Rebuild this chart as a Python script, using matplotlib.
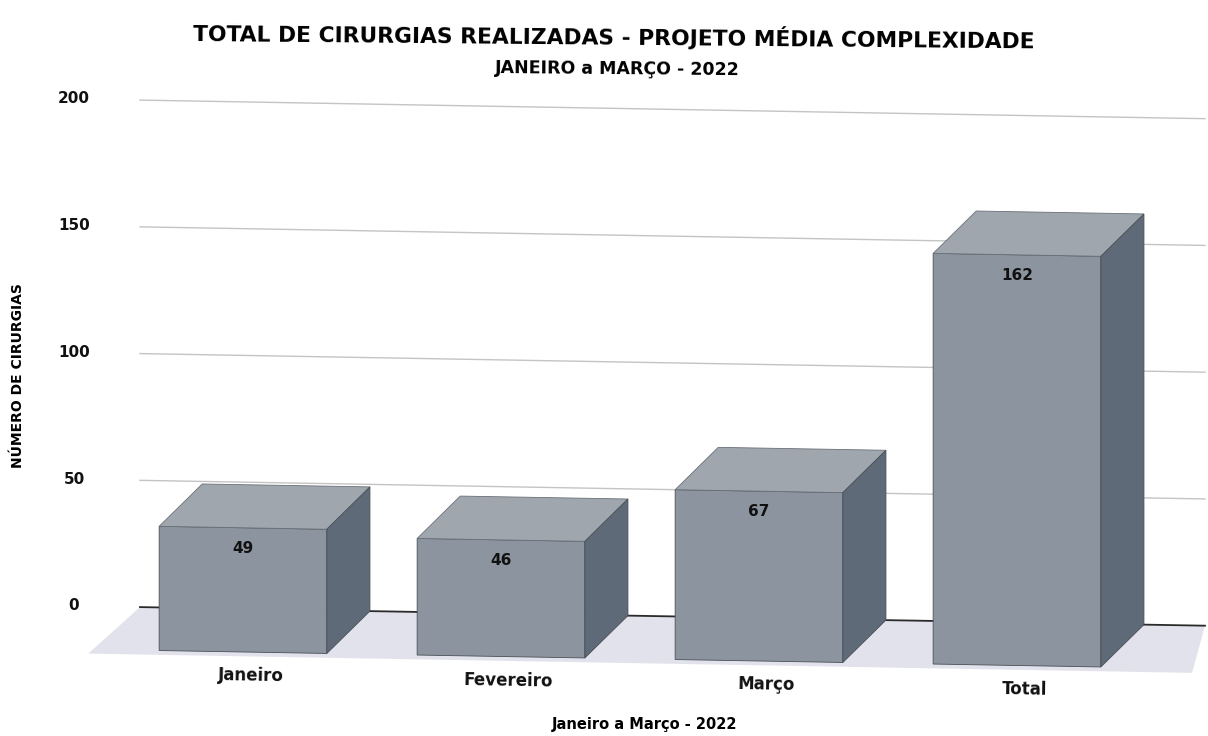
import numpy as np
import matplotlib.pyplot as plt
from matplotlib.patches import Polygon
from matplotlib.transforms import Affine2D

# ===================== 数据 =====================
meses = ["Janeiro", "Fevereiro", "Março", "Total"]
cirurgias = [49, 46, 67, 162]
y_ticks = [0, 50, 100, 150, 200]

titulo = "TOTAL DE CIRURGIAS REALIZADAS - PROJETO MÉDIA COMPLEXIDADE"
subtitulo = "JANEIRO a MARÇO - 2022"
eixo_x = "Janeiro a Março - 2022"
eixo_y = "NÚMERO DE CIRURGIAS"

# cores das faces (efeito 3D)
c_frente = '#8c959f'
c_topo = '#a0a6ae'
c_lado = '#5e6a78'
c_chao = '#e2e2ec'

W, H = 1208, 736
fig = plt.figure(figsize=(W / 100, H / 100), dpi=100)
fig.patch.set_facecolor('white')

# ===================== eixo =====================
# y=0 em px 616, escala 2.535 px por unidade
px_y = 2.535
y0_px = 616.0
top_px, bot_px = 90.0, 700.0
ax = fig.add_axes([90 / W, (H - bot_px) / H, 1115 / W, (bot_px - top_px) / H])
px_unit = 258.0
x0_px = 243.0
ax.set_xlim((90 - x0_px) / px_unit, (1205 - x0_px) / px_unit)
ax.set_ylim((y0_px - bot_px) / px_y, (y0_px - top_px) / px_y)
ax.axis('off')

# leve inclinação da página digitalizada (cisalhamento ~1 grau, bordas verticais ficam retas)
cx, cy = 650, H - 400
incl = Affine2D().translate(-cx, -cy).skew_deg(0, -1.0).translate(cx, cy)
tr = ax.transData + incl

# profundidade
dx = 0.167
dy = 17.0
larg = 0.65
x_parede = (140 - x0_px) / px_unit
x_fim = (1205 - x0_px) / px_unit

# chão
chao = Polygon([(x_parede, 0), (x_fim, 0), (x_fim - dx * 0.3, -dy * 1.1), (x_parede - dx * 1.2, -dy * 1.1)],
               closed=True, facecolor=c_chao, edgecolor='none', zorder=1,
               transform=tr, clip_on=False)
ax.add_patch(chao)

# grades na parede do fundo + rótulos do eixo y
x_lbl = (74 - x0_px) / px_unit
for t in y_ticks:
    if t == 0:
        ax.plot([x_parede, x_fim], [0, 0], color='#2a2a2a', lw=1.3, zorder=2,
                transform=tr, clip_on=False)
    else:
        ax.plot([x_parede, x_fim], [t, t], color='#c4c4c4', lw=1.0, zorder=2,
                transform=tr, clip_on=False)
    ax.text(x_lbl, t, str(t), ha='center', va='center', fontsize=11,
            fontweight='bold', color='#111111', transform=tr, clip_on=False)

# barras 3D
bars = ax.bar(range(len(meses)), cirurgias, width=larg, bottom=-dy, color=c_frente,
              edgecolor='#4a4f55', linewidth=0.6, zorder=5)
for i, (b, m, v) in enumerate(zip(bars, meses, cirurgias)):
    b.set_transform(tr)
    b.set_clip_on(False)
    xl = i - larg / 2
    xr = i + larg / 2
    yb = -dy
    yt = v - dy
    topo = Polygon([(xl, yt), (xr, yt), (xr + dx, yt + dy), (xl + dx, yt + dy)],
                   closed=True, facecolor=c_topo, edgecolor='#6a7078', linewidth=0.6,
                   zorder=5, transform=tr, clip_on=False)
    lado = Polygon([(xr, yb), (xr + dx, yb + dy), (xr + dx, yt + dy), (xr, yt)],
                   closed=True, facecolor=c_lado, edgecolor='#4a4f55', linewidth=0.6,
                   zorder=5, transform=tr, clip_on=False)
    ax.add_patch(topo)
    ax.add_patch(lado)
    ax.text(i, yt - 8, str(v), ha='center', va='center', fontsize=11,
            fontweight='bold', color='#111111', zorder=6, transform=tr)
    ax.text(i + 0.03, -26.4, m, ha='center', va='center', fontsize=12, rotation=-1,
            fontweight='bold', color='#111111', transform=tr, clip_on=False)

# títulos
fig.text(614 / W, 1 - 37 / H, titulo, ha='center', va='center', fontsize=15.7,
         fontweight='bold', rotation=-0.5)
fig.text(617 / W, 1 - 69 / H, subtitulo, ha='center', va='center', fontsize=12.5,
         fontweight='bold', rotation=-0.5)
fig.text(645 / W, 1 - 724 / H, eixo_x, ha='center', va='center', fontsize=10.5,
         fontweight='bold')
fig.text(18 / W, 1 - 376 / H, eixo_y, ha='center', va='center', fontsize=10,
         fontweight='bold', rotation=90)

fig.savefig("out.png", dpi=100)
